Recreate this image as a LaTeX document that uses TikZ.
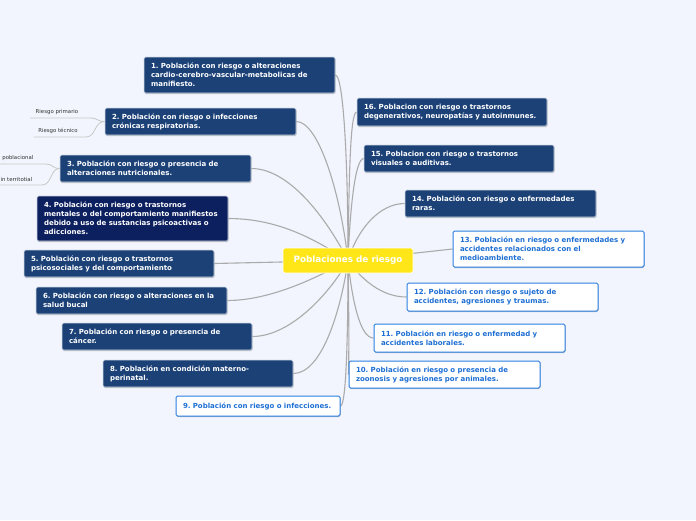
\documentclass[tikz,border=0pt]{standalone}
\usepackage{fontspec}
\setmainfont{DejaVu Sans}[BoldFont={DejaVu Sans Bold}]
\usetikzlibrary{shadows,backgrounds}
\definecolor{bg}{HTML}{F2F5FD}
\definecolor{navy}{HTML}{1B4177}
\definecolor{darknavy}{HTML}{0C1F5E}
\definecolor{wborder}{HTML}{2A7FE0}
\definecolor{wtext}{HTML}{1E6FD4}
\definecolor{yel}{HTML}{FFE619}
\definecolor{edgec}{HTML}{ABABAB}
\definecolor{subedge}{HTML}{C8C8C8}
\definecolor{subtext}{HTML}{333333}
\frenchspacing
\begin{document}
\begin{tikzpicture}[x=1pt,y=-1pt,
  box/.style={rectangle, rounded corners=1.5pt, inner sep=0pt,
    font=\bfseries\fontsize{7}{9}\selectfont, align=left,
    minimum height=27pt, minimum width=191pt, text width=177pt,
    drop shadow={shadow xshift=0.5pt, shadow yshift=-1pt, fill=black, opacity=0.22}},
  navybox/.style={box, fill=navy, draw=white!80!navy, line width=0.6pt, text=white},
  darkbox/.style={box, fill=darknavy, draw=white!80!darknavy, line width=0.6pt, text=white},
  whitebox/.style={box, fill=white, draw=wborder, line width=1pt, text=wtext},
  centre/.style={rectangle, rounded corners=2pt, fill=yel, draw=white, line width=0.8pt,
    text=white, font=\bfseries\fontsize{8.8}{10}\selectfont, minimum width=130pt, minimum height=25pt,
    inner sep=0pt},
  sublabel/.style={font=\fontsize{5.4}{6}\selectfont, text=subtext, inner sep=0pt},
  link/.style={draw=edgec, line width=1.1pt},
  sublink/.style={draw=subedge, line width=0.8pt},
]
\useasboundingbox (0,0) rectangle (696,520);

\node[centre] (c) at (348,260.5) {Poblaciones de riesgo};

\node[navybox, minimum height=36pt] (n1) at (239.5,75) {1. Población con riesgo o alteraciones\\cardio-cerebro-vascular-metabolicas de\\manifiesto.};
\node[navybox] (n2) at (200.5,121.5) {2. Población con riesgo o infecciones\\crónicas respiratorias.};
\node[navybox] (n3) at (155.5,168.5) {3. Población con riesgo o presencia de\\alteraciones nutricionales.};
\node[darkbox, minimum height=45pt] (n4) at (132.5,218.5) {4. Población con riesgo o trastornos\\mentales o del comportamiento manifiestos\\debido a uso de sustancias psicoactivas o\\adicciones.};
\node[navybox, minimum width=190pt, text width=176pt] (n5) at (119,263.5) {5. Población con riesgo o trastornos\\psicosociales y del comportamiento};
\node[navybox] (n6) at (131.5,300.5) {6. Población con riesgo o alteraciones en la\\salud bucal};
\node[navybox, minimum width=190pt, text width=176pt] (n7) at (157,336.5) {7. Población con riesgo o presencia de\\cáncer.};
\node[navybox, minimum width=190pt, text width=176pt] (n8) at (198,373.5) {8. Población en condición materno-\\perinatal.};
\node[whitebox, minimum width=164pt, text width=150pt, minimum height=20pt] (n9) at (258,406) {9. Población con riesgo o infecciones.};
\node[whitebox] (n10) at (444.5,374.5) {10. Población en riesgo o presencia de\\zoonosis y agresiones por animales.};
\node[whitebox, minimum height=28pt] (n11) at (469.5,338) {11. Población en riesgo o enfermedad y\\accidentes laborales.};
\node[whitebox, minimum height=28pt] (n12) at (502.5,297) {12. Población con riesgo o sujeto de\\accidentes, agresiones y traumas.};
\node[whitebox, minimum height=36pt] (n13) at (548.5,249) {13. Población en riesgo o enfermedades y\\accidentes relacionados con el\\medioambiente.};
\node[navybox] (n14) at (500.5,203.5) {14. Población con riesgo o enfermedades\\raras.};
\node[navybox, minimum width=190pt, text width=176pt] (n15) at (459,158.5) {15. Poblacion con riesgo o trastornos\\visuales o auditivas.};
\node[navybox, minimum width=190pt, text width=176pt, minimum height=28pt] (n16) at (452,112) {16. Poblacion con riesgo o trastornos\\degenerativos, neuropatías y autoinmunes.};

\node[sublabel] (s1) at (57,112) {Riesgo primario};
\node[sublabel] (s2) at (58,131) {Riesgo técnico};
\node[sublabel, anchor=east] (s3) at (33.5,158) {poblacional};
\node[sublabel, anchor=east] (s4) at (32.5,179) {in territotial};
\coordinate (s1a) at (30,118); \coordinate (s1b) at (90,118);
\coordinate (s2a) at (34,137); \coordinate (s2b) at (86,137);
\coordinate (s3a) at (0,164); \coordinate (s3b) at (46,164);
\coordinate (s4a) at (0,185); \coordinate (s4b) at (42,185);

\begin{pgfonlayer}{background}
\fill[bg] (0,0) rectangle (696,520);
\draw[sublink] (s1a) -- (s1b) .. controls (98,118) and (97,121.5) .. (n2.west);
\draw[sublink] (s2a) -- (s2b) .. controls (96,137) and (94,121.5) .. (n2.west);
\draw[sublink] (s3a) -- (s3b) .. controls (53,164) and (52,168.5) .. (n3.west);
\draw[sublink] (s4a) -- (s4b) .. controls (52,185) and (50,168.5) .. (n3.west);

\draw[link] (n1.east) .. controls (344,75) and (348,170) .. (c.center);
\draw[link] (n2.east) .. controls (318,121.5) and (340,190) .. (c.center);
\draw[link] (n3.east) .. controls (292,168.5) and (330,225) .. (c.center);
\draw[link] (n4.east) .. controls (282,218.5) and (320,243) .. (c.center);
\draw[link] (n5.east) -- (c.center);
\draw[link] (n6.east) .. controls (272,300.5) and (320,276) .. (c.center);
\draw[link] (n7.east) .. controls (292,336.5) and (332,290) .. (c.center);
\draw[link] (n8.east) .. controls (322,373.5) and (341,310) .. (c.center);
\draw[link] (n9.east) .. controls (346,406) and (348,340) .. (c.center);
\draw[link] (n10.west) .. controls (349,350) and (349,320) .. (c.center);
\draw[link] (n11.west) .. controls (360,338) and (352,300) .. (c.center);
\draw[link] (n12.west) .. controls (382,297) and (362,280) .. (c.center);
\draw[link] (n13.west) -- (c.center);
\draw[link] (n14.west) .. controls (380,203.5) and (358,228) .. (c.center);
\draw[link] (n15.west) .. controls (355,158.5) and (350,210) .. (c.center);
\draw[link] (n16.west) .. controls (350,112) and (349,180) .. (c.center);
\end{pgfonlayer}
\end{tikzpicture}
\end{document}
